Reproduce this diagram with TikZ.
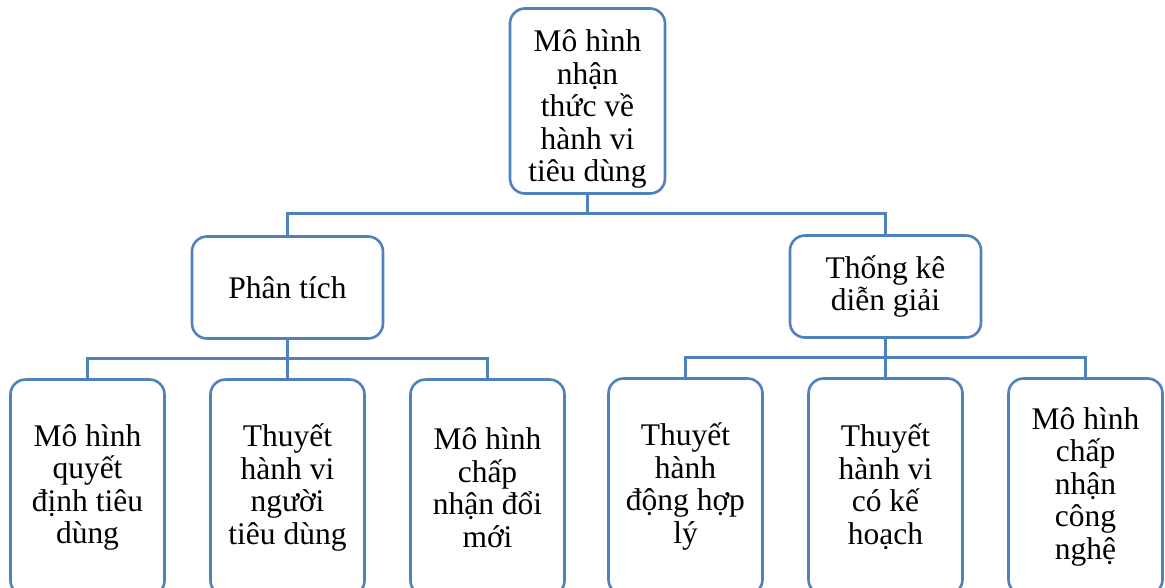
\documentclass[tikz,border=0pt]{standalone}
\usepackage{fontspec}
\setmainfont{Liberation Serif}
\usepackage{tikz}
\usetikzlibrary{positioning}
\definecolor{boxblue}{RGB}{79,129,189}

\begin{document}
\begin{tikzpicture}[x=1pt, y=-1pt,
    box/.style = {draw=boxblue, line width=2.6pt, rounded corners=15pt, align=center,
                  font=\fontsize{31.5}{32.5}\selectfont, inner sep=0pt, outer sep=0pt},
    topnode/.style = {box, minimum width=155pt, minimum height=185pt},
    midnode/.style = {box, minimum width=191pt, minimum height=102pt},
    leafnode/.style = {box, minimum width=154pt, minimum height=216pt},
    link/.style = {draw=boxblue, line width=2.6pt}]
     \clip (0,0) rectangle (1165,587);
     \node[topnode] (top) at (587.5,101) {\rule{0pt}{38pt}Mô hình\\nhận\\thức về\\hành vi\\tiêu dùng};
     \node[midnode] (phan) [below left=43pt and 127pt of top] {Phân tích};
     \node[midnode] (thong) [below right=42pt and 125pt of top] {Thống kê\\diễn giải};
     \node[leafnode] (hvtd) [below=41pt of phan] {Thuyết\\hành vi\\người\\tiêu dùng};
     \node[leafnode] (qdtd) [left=46pt of hvtd] {Mô hình\\quyết\\định tiêu\\dùng};
     \node[leafnode] (dmoi) [right=46pt of hvtd] {Mô hình\\chấp\\nhận đổi\\mới};
     \node[leafnode] (khoach) [below=41pt of thong] {Thuyết\\hành vi\\có kế\\hoạch};
     \node[leafnode] (hopky) [left=46pt of khoach] {Thuyết\\hành\\động hợp\\lý};
     \node[leafnode] (cnghe) [right=46pt of khoach] {Mô hình\\chấp\\nhận\\công\\nghệ};
     % connectors
     \draw[link] (top.south) -- ++(0,20) -| (phan.north);
     \draw[link] (top.south) -- ++(0,20) -| (thong.north);
     \draw[link] (phan.south) -- ++(0,20) -| (qdtd.north);
     \draw[link] (phan.south) -- (hvtd.north);
     \draw[link] (phan.south) -- ++(0,20) -| (dmoi.north);
     \draw[link] (thong.south) -- ++(0,20) -| (hopky.north);
     \draw[link] (thong.south) -- (khoach.north);
     \draw[link] (thong.south) -- ++(0,20) -| (cnghe.north);
\end{tikzpicture}
\end{document}
